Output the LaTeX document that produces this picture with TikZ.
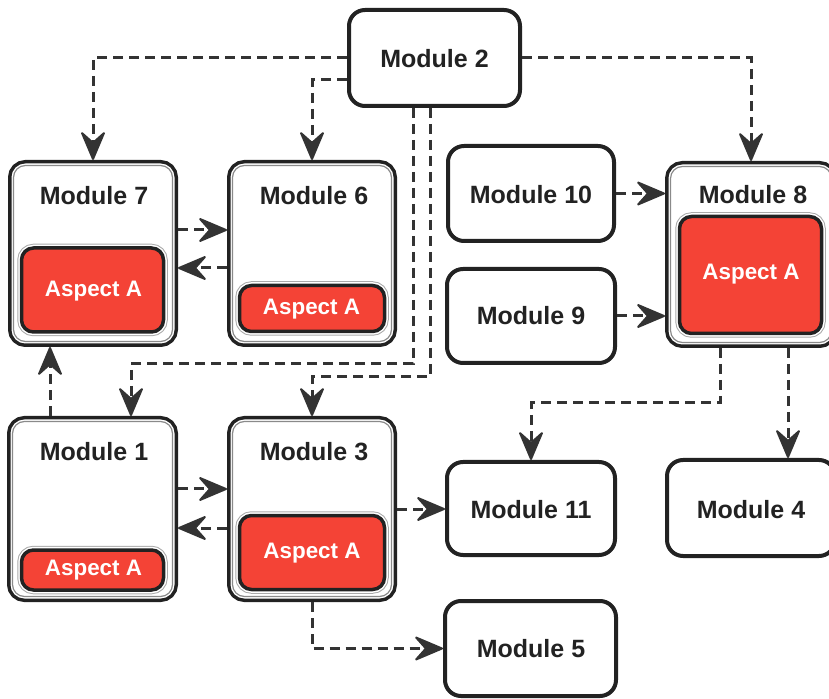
\documentclass[tikz,border=0pt]{standalone}
\usepackage{fontspec}
\setmainfont{Liberation Sans}
\usetikzlibrary{arrows.meta}
\definecolor{ln}{HTML}{333333}
\definecolor{bd}{HTML}{222222}
\definecolor{thin}{HTML}{8A8A8A}
\definecolor{halo}{HTML}{AAAAAA}
\definecolor{redA}{HTML}{F44336}
\begin{document}
\begin{tikzpicture}[x=0.5pt,y=-0.5pt,
  modbox/.style={draw=bd, line width=2pt, rounded corners=8pt, fill=white, inner sep=0pt},
  dmodbox/.style={rounded corners=6pt, inner sep=0pt, outer sep=2.75pt,
    preaction={draw=bd, line width=5.5pt},
    preaction={draw=white, line width=2pt},
    fill=white, draw=thin, line width=0.6pt},
  aspbox/.style={rounded corners=6pt, inner sep=0pt,
    preaction={draw=halo, line width=4.25pt},
    preaction={draw=white, line width=3.25pt},
    fill=redA, draw=bd, line width=1.75pt},
  ttl/.style={anchor=base, font=\fontsize{12.5pt}{14pt}\selectfont\bfseries, text=bd, inner sep=0pt},
  asptxt/.style={anchor=base, font=\fontsize{11.2pt}{13pt}\selectfont\bfseries, text=white, inner sep=0pt},
  conn/.style={draw=ln, line width=1.5pt, dash pattern=on 5pt off 3pt,
    -{Stealth[length=16pt, width=13.5pt, inset=6pt, line width=1pt, round]}}
]
\useasboundingbox (0,0) rectangle (829,699);

% module boxes
\node[modbox, minimum width=85.5pt, minimum height=48pt] (m2) at (434.5,58) {};
\node[dmodbox, minimum width=79.5pt, minimum height=88pt] (m7) at (93,253.5) {};
\node[dmodbox, minimum width=79.5pt, minimum height=88pt] (m6) at (312,253.5) {};
\node[dmodbox, minimum width=80pt, minimum height=87.5pt] (m1) at (92.5,509) {};
\node[dmodbox, minimum width=79.5pt, minimum height=87.5pt] (m3) at (312,509) {};
\node[dmodbox, minimum width=80.5pt, minimum height=88pt] (m8) at (751,254.5) {};
\node[modbox, minimum width=83pt, minimum height=47.5pt] (m10) at (531,193.5) {};
\node[modbox, minimum width=84pt, minimum height=47pt] (m9) at (531,316) {};
\node[modbox, minimum width=84pt, minimum height=46.5pt] (m11) at (531,508.5) {};
\node[modbox, minimum width=84pt, minimum height=48pt] (m4) at (751,508) {};
\node[modbox, minimum width=85.5pt, minimum height=47.5pt] (m5) at (530.5,648.5) {};

% aspect boxes
\node[aspbox, minimum width=71pt, minimum height=42pt] (a7) at (92.5,290) {};
\node[aspbox, minimum width=72.5pt, minimum height=23pt] (a6) at (312,308.5) {};
\node[aspbox, minimum width=71pt, minimum height=20pt] (a1) at (92.5,570) {};
\node[aspbox, minimum width=72.5pt, minimum height=37pt] (a3) at (312,552.5) {};
\node[aspbox, minimum width=71pt, minimum height=58.5pt] (a8) at (750.5,275) {};

% titles
\node[ttl] (t2) at (434.5,68) {Module 2};
\node[ttl] (t7) at (94,205) {Module 7};
\node[ttl] (t6) at (314,205) {Module 6};
\node[ttl] (t1) at (94,460) {Module 1};
\node[ttl] (t3) at (314,460) {Module 3};
\node[ttl] (t8) at (753,204) {Module 8};
\node[ttl] (t10) at (531,204) {Module 10};
\node[ttl] (t9) at (531,325) {Module 9};
\node[ttl] (t11) at (531,518) {Module 11};
\node[ttl] (t4) at (751,518) {Module 4};
\node[ttl] (t5) at (531,657) {Module 5};

% aspect texts
\node[asptxt] (x7) at (93.5,297) {Aspect A};
\node[asptxt] (x6) at (311.5,315) {Aspect A};
\node[asptxt] (x1) at (93.5,575) {Aspect A};
\node[asptxt] (x3) at (312,558) {Aspect A};
\node[asptxt] (x8) at (751,280) {Aspect A};

% connectors
\draw[conn] (m2.west) -| (m7.north);
\draw[conn] ([yshift=-11pt]m2.west) -| (m6.north);
\draw[conn] (m2.east) -| (m8.north);
\draw[conn] ([xshift=-10.75pt]m2.south) -- ++(0,256) -| ([xshift=19.25pt]m1.north);
\draw[conn] ([xshift=-2.25pt]m2.south) -- ++(0,269) -| (m3.north);
\draw[conn] (m10.east) -- (m10.east -| m8.west);
\draw[conn] (m9.east) -- (m9.east -| m8.west);
\draw[conn] ([yshift=11.75pt]m7.east) -- ([yshift=11.75pt]m6.west);
\draw[conn] ([yshift=-7.25pt]m6.west) -- ([yshift=-7.25pt]m7.east);
\draw[conn] ([yshift=10pt]m1.east) -- ([yshift=10pt]m3.west);
\draw[conn] ([yshift=-9.5pt]m3.west) -- ([yshift=-9.5pt]m1.east);
\draw[conn] ([xshift=-21.25pt]m1.north) -- ([xshift=-21.25pt]m1.north |- m7.south);
\draw[conn] (m3.east) -- (m3.east -| m11.west);
\draw[conn] (m3.south) |- (m5.west);
\draw[conn] ([xshift=-15.5pt]m8.south) -- ++(0,54.5) -| (m11.north);
\draw[conn] ([xshift=18.5pt]m8.south) -- ([xshift=18.5pt]m8.south |- m4.north);
\end{tikzpicture}
\end{document}
